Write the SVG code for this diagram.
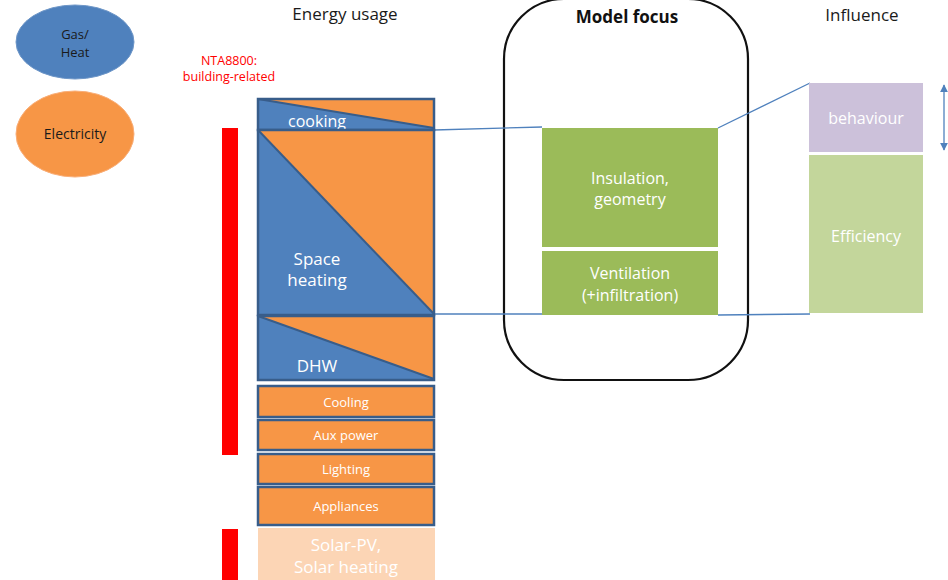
<svg xmlns="http://www.w3.org/2000/svg" width="948" height="580" viewBox="0 0 948 580">
<defs>
<style>
.t{font-family:"Open Sans","Liberation Sans",sans-serif;}
.w{fill:#ffffff;text-anchor:middle;}
.blk{stroke:#385d8a;stroke-width:2.5;}
.blue{fill:#4f81bd;}
.or{fill:#f79646;}
.diag{stroke:#385d8a;stroke-width:2;fill:none;}
.conn{stroke:#4f81bd;stroke-width:1.3;fill:none;}
</style>
<marker id="ah" viewBox="0 0 10 10" refX="9" refY="5" markerWidth="6" markerHeight="6" orient="auto-start-reverse">
<path d="M0,0 L10,5 L0,10 z" fill="#4f81bd"/>
</marker>
</defs>
<rect width="948" height="580" fill="#ffffff"/>

<g id="legend-gas">
<ellipse cx="75" cy="42" rx="59" ry="37" fill="#4f81bd" stroke="#6f97c8" stroke-width="1"/>
<text class="t" x="75" y="39" font-size="13" fill="#1a1a1a" text-anchor="middle">Gas/</text>
<text class="t" x="75" y="57" font-size="13" fill="#1a1a1a" text-anchor="middle">Heat</text>
</g>
<g id="legend-electricity">
<ellipse cx="75" cy="134" rx="59" ry="43" fill="#f79646" stroke="#f9ae78" stroke-width="1"/>
<text class="t" x="75" y="139" font-size="14" fill="#1a1a1a" text-anchor="middle">Electricity</text>
</g>

<g id="headers">
<text class="t" x="345" y="20" font-size="17" fill="#1a1a1a" text-anchor="middle">Energy usage</text>
<text class="t" x="627" y="23" font-size="17" font-weight="bold" fill="#111111" text-anchor="middle">Model focus</text>
<text class="t" x="862" y="21" font-size="17" fill="#1a1a1a" text-anchor="middle">Influence</text>
<text class="t" x="229" y="65" font-size="12.5" fill="#ff0000" text-anchor="middle">NTA8800:</text>
<text class="t" x="229" y="81" font-size="12.5" fill="#ff0000" text-anchor="middle">building-related</text>
</g>

<g id="nta-bars">
<rect x="222" y="128" width="16" height="327" fill="#ff0000"/>
<rect x="222" y="529" width="16" height="51" fill="#ff0000"/>
</g>

<g id="model-focus">
<rect x="504" y="-1" width="244" height="381" rx="60" ry="60" fill="none" stroke="#111111" stroke-width="2.2"/>
</g>

<g id="connectors">
<line class="conn" x1="434" y1="130" x2="542" y2="127"/>
<line class="conn" x1="434" y1="314" x2="542" y2="314"/>
<line class="conn" x1="718" y1="128" x2="810" y2="83"/>
<line class="conn" x1="718" y1="315" x2="810" y2="314"/>
<line class="conn" x1="944" y1="85" x2="944" y2="150" marker-start="url(#ah)" marker-end="url(#ah)"/>
</g>

<g id="cooking">
<rect x="258" y="99" width="176" height="31" class="blue"/>
<polygon points="258,99 434,99 434,128" class="or"/>
<line class="diag" x1="258" y1="99" x2="434" y2="128"/>
<rect x="258" y="99" width="176" height="31" fill="none" class="blk"/>
<text class="t w" x="317" y="127" font-size="16">cooking</text>
</g>

<g id="space-heating">
<rect x="258" y="130" width="176" height="185" class="blue"/>
<polygon points="258,130 434,130 434,314" class="or"/>
<line class="diag" x1="258" y1="130" x2="434" y2="314"/>
<rect x="258" y="130" width="176" height="185" fill="none" class="blk"/>
<text class="t w" x="317" y="265" font-size="17">Space</text>
<text class="t w" x="317" y="286" font-size="17">heating</text>
</g>

<g id="dhw">
<rect x="258" y="316" width="176" height="64" class="blue"/>
<polygon points="258,316 434,316 434,379" class="or"/>
<line class="diag" x1="258" y1="316" x2="434" y2="379"/>
<rect x="258" y="316" width="176" height="64" fill="none" class="blk"/>
<text class="t w" x="317" y="372" font-size="17">DHW</text>
</g>

<g id="cooling">
<rect x="258" y="386" width="176" height="31" class="or blk"/>
<text class="t w" x="346" y="407" font-size="13">Cooling</text>
</g>
<g id="aux-power">
<rect x="258" y="420" width="176" height="30" class="or blk"/>
<text class="t w" x="346" y="440" font-size="13">Aux power</text>
</g>
<g id="lighting">
<rect x="258" y="454" width="176" height="30" class="or blk"/>
<text class="t w" x="346" y="474" font-size="13">Lighting</text>
</g>
<g id="appliances">
<rect x="258" y="487" width="176" height="38" class="or blk"/>
<text class="t w" x="346" y="511" font-size="13">Appliances</text>
</g>
<g id="solar">
<rect x="258" y="528" width="177" height="52" fill="#fcd5b5"/>
<text class="t w" x="346" y="551" font-size="17">Solar-PV,</text>
<text class="t w" x="346" y="573" font-size="17">Solar heating</text>
</g>

<g id="insulation">
<rect x="542" y="128" width="176" height="119" fill="#9bbb59"/>
<text class="t w" x="630" y="184" font-size="16">Insulation,</text>
<text class="t w" x="630" y="205" font-size="16">geometry</text>
</g>
<g id="ventilation">
<rect x="542" y="251" width="176" height="64" fill="#9bbb59"/>
<text class="t w" x="630" y="279" font-size="16">Ventilation</text>
<text class="t w" x="630" y="301" font-size="16">(+infiltration)</text>
</g>

<g id="behaviour">
<rect x="809" y="83" width="114" height="69" fill="#ccc1da"/>
<text class="t w" x="866" y="124" font-size="16">behaviour</text>
</g>
<g id="efficiency">
<rect x="809" y="155" width="114" height="158" fill="#c3d69b"/>
<text class="t w" x="866" y="242" font-size="16">Efficiency</text>
</g>
</svg>
